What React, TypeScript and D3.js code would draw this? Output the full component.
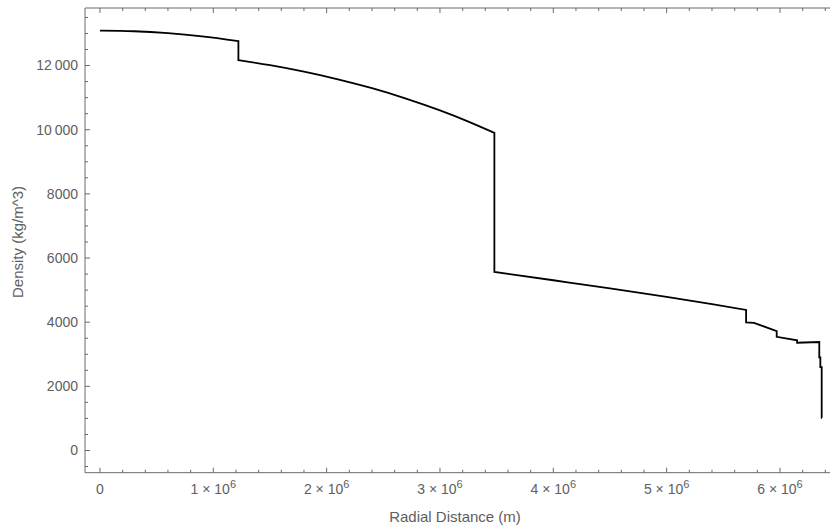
import React from "react";
import * as d3 from "d3";

type Pt = [number, number];

// PREM-like density profile (radius in m, density in kg/m^3)
const innerCore: Pt[] = [[0, 13088], [300000, 13069], [600000, 13010], [900000, 12912], [1221500, 12764]];
const outerCore: Pt[] = [[1221500, 12166], [1500000, 12010], [1800000, 11809], [2100000, 11571], [2400000, 11293], [2700000, 10971], [3000000, 10602], [3240000, 10270], [3480000, 9903]];
const lowerMantle: Pt[] = [[3480000, 5567], [4000000, 5307], [4500000, 5055], [5000000, 4790], [5400000, 4563], [5701000, 4381]];
const transitionZone: Pt[] = [[5701000, 3992], [5771000, 3976]];
const upperMantleA: Pt[] = [[5771000, 3976], [5971000, 3724]];
const upperMantleB: Pt[] = [[5971000, 3543], [6151000, 3436]];
const lithosphere: Pt[] = [[6151000, 3360], [6346600, 3381]];
const lowerCrust: Pt[] = [[6346600, 2900], [6356000, 2900]];
const upperCrust: Pt[] = [[6356000, 2600], [6368000, 2600]];
const ocean: Pt[] = [[6368000, 1020], [6371000, 1020]];

const layers: Pt[][] = [innerCore, outerCore, lowerMantle, transitionZone, upperMantleA, upperMantleB, lithosphere, lowerCrust, upperCrust, ocean];

const yMajorTicks = [0, 2000, 4000, 6000, 8000, 10000, 12000];
const yTickLabels = ["0", "2000", "4000", "6000", "8000", "10\u2009000", "12\u2009000"];
const xMajorTicks = [0, 1e6, 2e6, 3e6, 4e6, 5e6, 6e6];
const xTickMantissas = ["0", "1", "2", "3", "4", "5", "6"];

const W = 830;
const H = 529;
const left = 85, right = 837, top = 8, bottom = 472.7;

export default function App() {
  const x = d3.scaleLinear().domain([-132000, 6503000]).range([left, right]);
  const y = d3.scaleLinear().domain([-692, 13794]).range([bottom, top]);

  const lineGen = d3.line<Pt>().x((d) => x(d[0])).y((d) => y(d[1])).curve(d3.curveMonotoneX);
  const pathD = layers
    .map((l, i) => {
      const s = lineGen(l) || "";
      return i === 0 ? s : "L" + s.slice(1);
    })
    .join("");

  const yMinor = d3.range(-500, 13800, 500).filter((v) => v % 2000 !== 0);
  const xMinor = d3.range(0, 6500001, 200000).filter((v) => v % 1e6 !== 0);

  const axisColor = "#6a6a6a";
  const textColor = "#606060";
  const font = "'Liberation Sans', Arial, sans-serif";

  return (
    <svg width={W} height={H} style={{ position: "absolute", left: 0, top: 0, background: "#fff" }} fontFamily={font}>
      <rect x={0} y={0} width={W} height={H} fill="#fff" />
      {/* frame */}
      <g stroke={axisColor} strokeWidth={1} fill="none">
        <line x1={left} x2={right} y1={bottom} y2={bottom} />
        <line x1={left} x2={right} y1={top} y2={top} />
        <line x1={left} x2={left} y1={top} y2={bottom} />
        <line x1={right} x2={right} y1={top} y2={bottom} />
        {yMajorTicks.map((v) => (
          <g key={"ym" + v}>
            <line x1={left} x2={left + 5} y1={y(v)} y2={y(v)} />
            <line x1={right} x2={right - 5} y1={y(v)} y2={y(v)} />
          </g>
        ))}
        {yMinor.map((v) => (
          <g key={"yn" + v}>
            <line x1={left} x2={left + 3} y1={y(v)} y2={y(v)} />
            <line x1={right} x2={right - 3} y1={y(v)} y2={y(v)} />
          </g>
        ))}
        {xMajorTicks.map((v) => (
          <g key={"xm" + v}>
            <line x1={x(v)} x2={x(v)} y1={bottom} y2={bottom - 5} />
            <line x1={x(v)} x2={x(v)} y1={top} y2={top + 5} />
          </g>
        ))}
        {xMinor.map((v) => (
          <g key={"xn" + v}>
            <line x1={x(v)} x2={x(v)} y1={bottom} y2={bottom - 3} />
            <line x1={x(v)} x2={x(v)} y1={top} y2={top + 3} />
          </g>
        ))}
      </g>
      {/* y tick labels */}
      <g fill={textColor} fontSize={14} textAnchor="end">
        {yMajorTicks.map((v, i) => (
          <text key={"yl" + v} x={78} y={y(v)} dy="0.35em">
            {yTickLabels[i]}
          </text>
        ))}
      </g>
      {/* x tick labels */}
      <g fill={textColor} fontSize={14} textAnchor="middle">
        {xMajorTicks.map((v, i) =>
          v === 0 ? (
            <text key={"xl" + v} x={x(v)} y={494}>
              {xTickMantissas[i]}
            </text>
          ) : (
            <text key={"xl" + v} x={x(v)} y={494}>
              {xTickMantissas[i] + " \u00d7 10"}
              <tspan dy={-6} fontSize={11}>6</tspan>
            </text>
          )
        )}
      </g>
      {/* axis titles */}
      <text x={455} y={522} textAnchor="middle" fontSize={15} fill={textColor}>
        Radial Distance (m)
      </text>
      <text
        transform={`translate(18, ${242}) rotate(-90)`}
        textAnchor="middle"
        dy="0.35em"
        fontSize={15}
        fill={textColor}
      >
        Density (kg/m^3)
      </text>
      {/* data curve */}
      <path d={pathD} fill="none" stroke="#000" strokeWidth={1.8} strokeLinejoin="miter" />
    </svg>
  );
}
